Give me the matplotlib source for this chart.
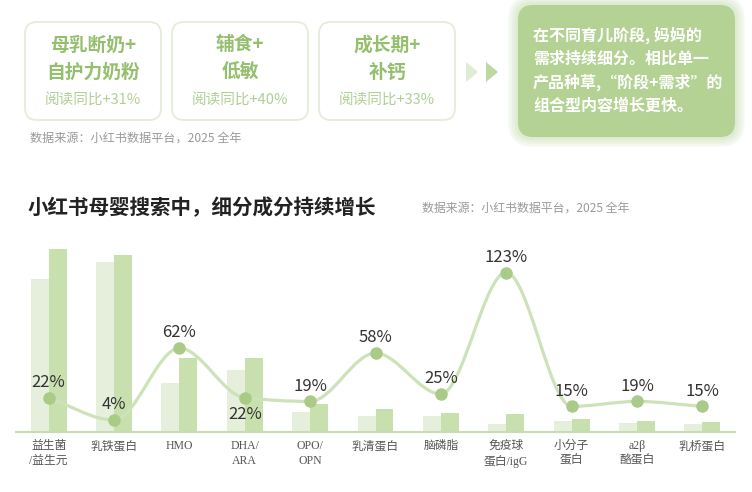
import matplotlib
matplotlib.use("Agg")
import numpy as np
from matplotlib import pyplot as plt
from matplotlib.patches import FancyBboxPatch, Polygon
from matplotlib.path import Path
from matplotlib.patches import PathPatch

plt.rcParams['font.family'] = ['Noto Sans CJK SC', 'DejaVu Sans']

# ---- data ----
categories = ["益生菌\n/益生元", "乳铁蛋白", "HMO", "DHA/\nARA", "OPO/\nOPN", "乳清蛋白",
              "脑磷脂", "免疫球\n蛋白/igG", "小分子\n蛋白", "a2β\n酪蛋白", "乳桥蛋白"]
search_2024 = [153, 170, 49, 62, 20, 16, 16, 8, 11, 9.5, 8]
search_2025 = [183, 177, 74, 74, 28, 23, 19, 18, 13, 11, 10]
growth = [22, 4, 62, 22, 19, 58, 25, 123, 15, 19, 15]
growth_labels = ["22%", "4%", "62%", "22%", "19%", "58%", "25%", "123%", "15%", "19%", "15%"]

cards = [("母乳断奶+\n自护力奶粉", "阅读同比+31%"),
         ("辅食+\n低敏", "阅读同比+40%"),
         ("成长期+\n补钙", "阅读同比+33%")]
insight = ["在不同育儿阶段, 妈妈的", "需求持续细分。相比单一",
           "产品种草,“阶段+需求”的", "组合型内容增长更快。"]
source = "数据来源：小红书数据平台，2025 全年"
title = "小红书母婴搜索中，细分成分持续增长"

LIGHT = "#e6efdc"
DARK = "#c8e0ae"
LINE = "#cde2b8"
DOT = "#a9cb87"
GREEN_TXT = "#94bf6d"
SUB_TXT = "#b0cf95"

fig = plt.figure(figsize=(7.52, 4.92), dpi=100)

# overlay axes in pixel coords for the header part
bg = fig.add_axes([0, 0, 1, 1])
bg.set_xlim(0, 752)
bg.set_ylim(492, 0)
bg.axis("off")

card_x = [25, 172, 319]
for (head, sub), x0 in zip(cards, card_x):
    box = FancyBboxPatch((x0 + 12, 34), 136 - 24, 98 - 24,
                         boxstyle="round,pad=12", fc="white", ec="#e4edda", lw=1.3)
    bg.add_patch(box)
    cx = x0 + 68
    l1, l2 = head.split("\n")
    bg.text(cx, 45, l1, ha="center", va="center", fontsize=13.5, color=GREEN_TXT, fontweight="bold")
    bg.text(cx, 72, l2, ha="center", va="center", fontsize=13.5, color=GREEN_TXT, fontweight="bold")
    bg.text(cx, 100, sub, ha="center", va="center", fontsize=10.5, color=SUB_TXT)

bg.add_patch(Polygon([[466, 62], [466, 82], [478, 72]], closed=True, fc="#dfecd3", ec="none"))
bg.add_patch(Polygon([[486, 62], [486, 82], [498, 72]], closed=True, fc="#bcd9a0", ec="none"))

# glow behind insight box
for i in range(8):
    glow = FancyBboxPatch((533, 20), 187, 102,
                          boxstyle="round,pad=%d" % (15 + i * 1.5), fc="#b9d59c", ec="none",
                          alpha=0.08)
    bg.add_patch(glow)
bg.add_patch(FancyBboxPatch((533, 20), 187, 102, boxstyle="round,pad=15",
                            fc="#b4d294", ec="none"))
for i, line in enumerate(insight):
    bg.text(533, 35 + i * 23.5, line, ha="left", va="center", fontsize=11.5,
            color="white", fontweight="bold")

bg.text(30, 138, source, ha="left", va="center", fontsize=8.7, color="#9a9a9a")
bg.text(28, 208, title, ha="left", va="center", fontsize=14.8, color="#222222", fontweight="bold")
bg.text(422, 208, source, ha="left", va="center", fontsize=8.6, color="#9a9a9a")

# ---- chart ----
W, H = 752.0, 492.0
ax = fig.add_axes([16 / W, 1 - 432 / H, 719 / W, 187 / H])
x = np.arange(len(categories))
bw = 0.275
ax.bar(x - bw / 2, search_2024, width=bw, color=LIGHT, zorder=1)
ax.bar(x + bw / 2, search_2025, width=bw, color=DARK, zorder=1)
ax.set_xlim(-0.5, len(categories) - 0.5)
ax.set_ylim(0, 187)
for s in ["top", "right", "left"]:
    ax.spines[s].set_visible(False)
ax.spines["bottom"].set_color("#c7dcb2")
ax.spines["bottom"].set_linewidth(1.5)
ax.set_yticks([])
ax.set_xticks(x)
ax.set_xticklabels(categories, family=['Liberation Serif', 'Noto Sans CJK SC'],
                   fontsize=8.5, color="#555555", linespacing=1.25)
ax.tick_params(axis="x", length=0, pad=6)
ax.patch.set_alpha(0)

ax2 = ax.twinx()
ax2.set_ylim(-5.65, 145.2)
ax2.axis("off")

# smooth monotone curve through the growth points (bezier path)
yv = np.array(growth, dtype=float)
d = np.diff(yv)
m = np.zeros_like(yv)
m[0], m[-1] = d[0], d[-1]
for i in range(1, len(yv) - 1):
    if d[i - 1] * d[i] <= 0:
        m[i] = 0
    else:
        m[i] = 2 / (1 / d[i - 1] + 1 / d[i])
verts = [(x[0], yv[0])]
codes = [Path.MOVETO]
for i in range(len(yv) - 1):
    verts += [(x[i] + 1 / 3, yv[i] + m[i] / 3),
              (x[i + 1] - 1 / 3, yv[i + 1] - m[i + 1] / 3),
              (x[i + 1], yv[i + 1])]
    codes += [Path.CURVE4] * 3
ax2.add_patch(PathPatch(Path(verts, codes), fc="none", ec=LINE, lw=2.3, zorder=2))
ax2.plot(x, yv, "o", ms=8, color=DOT, zorder=3)

for i, (v, lab) in enumerate(zip(growth, growth_labels)):
    off = -12 if i == 3 else 11
    ax2.annotate(lab, (x[i], v), xytext=(0, off), textcoords="offset points",
                 ha="center", va="center", fontsize=12, color="#333333", zorder=4)

fig.savefig("out.png", dpi=100)
